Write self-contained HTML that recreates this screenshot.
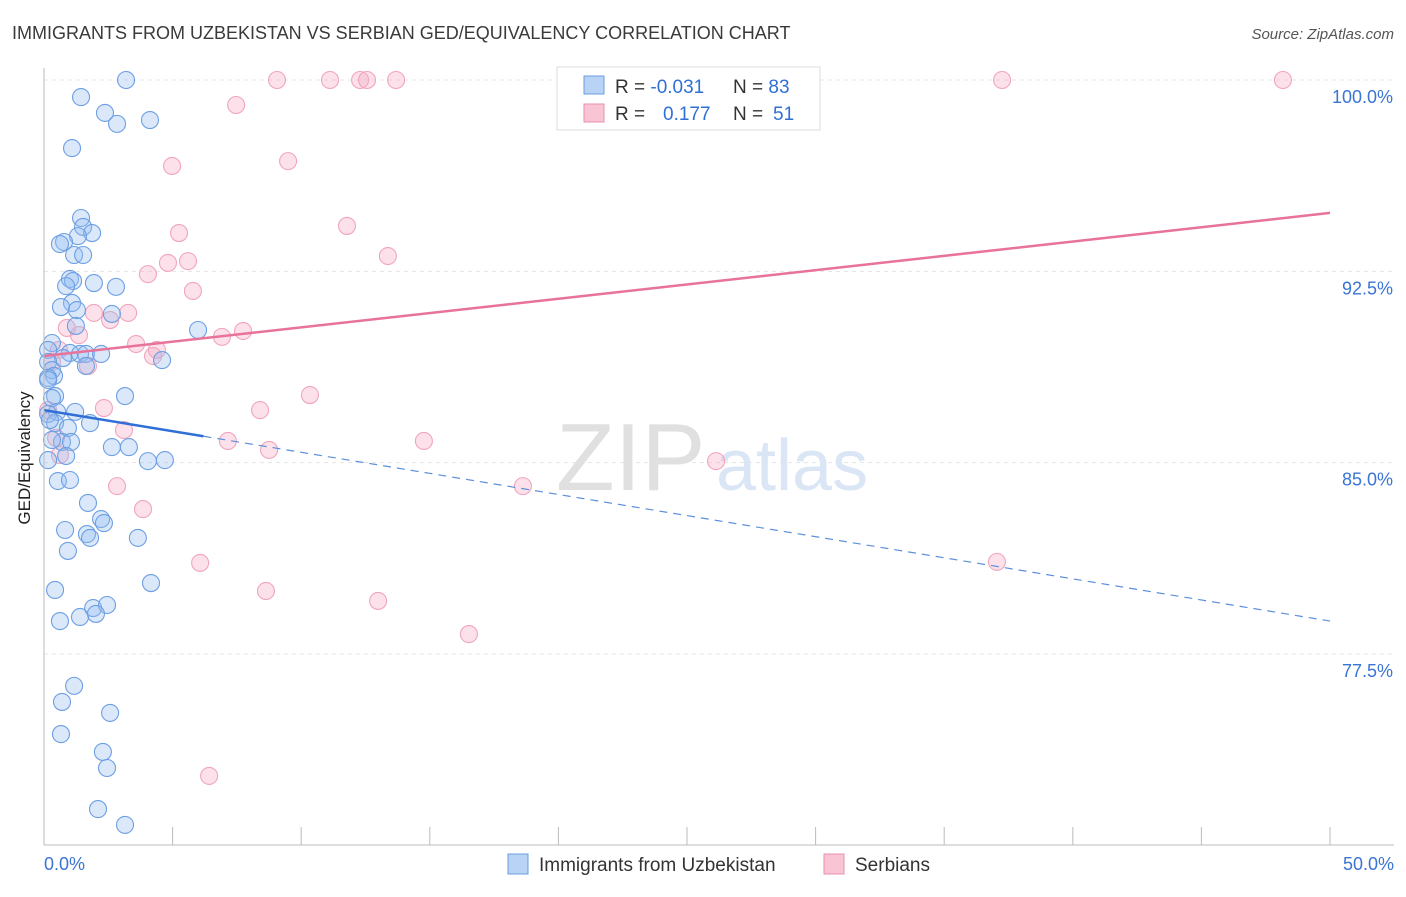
<!DOCTYPE html>
<html><head><meta charset="utf-8"><style>
body{margin:0;background:#fff;font-family:"Liberation Sans",sans-serif;}
svg text{font-family:"Liberation Sans",sans-serif;}
</style></head><body>
<svg id="c" width="1406" height="892">
<text x="12" y="39" font-size="18" fill="#3a3a3a">IMMIGRANTS FROM UZBEKISTAN VS SERBIAN GED/EQUIVALENCY CORRELATION CHART</text>
<text x="1394" y="39" font-size="15" fill="#555" text-anchor="end" font-style="italic">Source: ZipAtlas.com</text>
<text x="30" y="458" font-size="17" fill="#222" text-anchor="middle" transform="rotate(-90 30 458)">GED/Equivalency</text>
<g id="grid"></g>
<g><text x="556" y="490" font-size="96" fill="#e0e0e0" font-family="Liberation Serif">ZIP</text><text x="716" y="490" font-size="72" fill="#dae6f5">atlas</text></g>
<g id="pts"></g>
<g id="lines"></g>
<g id="axes"></g>
<g>
<rect x="557" y="67" width="263" height="63" fill="#fff" stroke="#ddd"/>
<rect x="584" y="76" width="20" height="18" fill="#b8d3f5" stroke="#6b9ee0"/>
<rect x="584" y="104" width="20" height="18" fill="#f9c4d4" stroke="#ea8fae"/>
<text x="615" y="93" font-size="19" fill="#333">R = <tspan fill="#2f6fd6">-0.031</tspan></text>
<text x="733" y="93" font-size="19" fill="#333">N = <tspan fill="#2f6fd6">83</tspan></text>
<text x="615" y="120" font-size="19" fill="#333">R = <tspan fill="#2f6fd6" x="663">0.177</tspan></text>
<text x="733" y="120" font-size="19" fill="#333">N = <tspan fill="#2f6fd6" x="773">51</tspan></text>
</g>
<g>
<rect x="508" y="854" width="20" height="20" fill="#b8d3f5" stroke="#6b9ee0"/>
<text x="539" y="871" font-size="19" fill="#333">Immigrants from Uzbekistan</text>
<rect x="824" y="854" width="20" height="20" fill="#f9c4d4" stroke="#ea8fae"/>
<text x="855" y="871" font-size="19" fill="#333">Serbians</text>
</g>
</svg>
<script>
const yTicks=[100,92.5,85,77.5];
const yTickLabels=["100.0%","92.5%","85.0%","77.5%"];
const xTicks=[0,5,10,15,20,25,30,35,40,45,50];
const blueX=[3.19,1.44,2.37,2.84,4.12,1.09,1.44,1.52,1.87,1.32,0.78,0.62,1.17,1.52,1.01,1.13,1.94,0.86,2.80,1.09,0.66,1.28,2.64,1.24,5.99,0.31,0.16,1.01,1.40,1.63,2.22,0.74,4.59,0.16,0.31,0.39,0.16,1.63,0.43,3.15,0.31,1.21,0.51,0.16,1.79,0.43,0.93,0.70,1.05,2.64,3.30,0.86,0.16,4.04,4.70,0.54,1.01,1.71,2.22,2.33,0.82,1.67,1.79,3.65,0.93,4.16,0.43,1.91,2.45,1.40,2.02,0.62,1.17,0.70,2.57,0.66,2.29,2.45,2.10,3.15,0.16,0.23,0.31];
const blueY=[100,99.33,98.71,98.28,98.43,97.33,94.59,94.24,94.00,93.88,93.65,93.57,93.14,93.14,92.20,92.12,92.04,91.92,91.89,91.26,91.10,90.98,90.83,90.36,90.20,89.69,89.42,89.30,89.26,89.26,89.26,89.10,89.02,88.95,88.63,88.40,88.32,88.79,87.61,87.61,87.53,86.99,86.99,86.91,86.55,86.55,86.36,85.81,85.81,85.61,85.61,85.26,85.10,85.06,85.10,84.28,84.32,83.42,82.79,82.63,82.36,82.20,82.05,82.05,81.54,80.28,80.01,79.30,79.42,78.95,79.07,78.79,76.25,75.62,75.19,74.36,73.66,73.03,71.42,70.80,88.24,86.67,85.89];
const pinkX=[20.57,9.06,11.12,12.29,12.56,13.69,37.25,48.17,7.47,9.49,4.98,11.78,5.25,13.37,4.04,4.82,5.60,5.79,1.94,3.27,2.57,0.89,1.36,7.74,6.92,3.58,4.39,4.24,0.58,1.71,0.31,10.34,2.33,8.40,3.11,7.15,8.75,14.77,0.47,26.13,2.84,18.62,3.85,6.07,37.05,8.63,12.99,16.52,6.42,0.16,0.62];
const pinkY=[100,100,100,100,100,100,100,100,99.02,96.82,96.63,94.28,94.00,93.10,92.39,92.83,92.90,91.73,90.87,90.87,90.59,90.28,90.00,90.16,89.93,89.65,89.42,89.18,89.42,88.79,88.95,87.65,87.14,87.06,86.28,85.85,85.50,85.85,85.97,85.06,84.08,84.08,83.18,81.07,81.11,79.97,79.58,78.28,72.72,87.06,85.30];
const pinkTrend=[89.18,94.79];
const blueTrend=[87.06,78.79];
const blueSolidEnd=6.2;
const X=v=>44+v*25.72, Y=v=>80+(100-v)*25.51;
const NS="http://www.w3.org/2000/svg";
function mk(tag,parent,attrs){const e=document.createElementNS(NS,tag);for(const k in attrs)e.setAttribute(k,attrs[k]);document.getElementById(parent).appendChild(e);return e;}
yTicks.forEach((t,i)=>{
 const g=mk('line','grid',{x1:44,x2:1394,y1:Y(t),y2:Y(t),stroke:'#e4e4e4','stroke-dasharray':'4 4'});
 
 
 const l=mk('text','axes',{x:1393,y:Y(t)+23,'font-size':18,fill:'#3a74d4','text-anchor':'end'});
 l.textContent=yTickLabels[i];
 
 
});
const ax=mk('line','axes',{x1:44,x2:44,y1:68,y2:845,stroke:'#bbb'});


const bx=mk('line','axes',{x1:44,x2:1394,y1:845,y2:845,stroke:'#bbb'});


xTicks.forEach(t=>{const e=mk('line','axes',{x1:X(t),x2:X(t),y1:827,y2:845,stroke:'#bbb'});
 
 });
const xl0=mk('text','axes',{x:44,y:870,'font-size':18,fill:'#3a74d4'});xl0.textContent=xTicks[0].toFixed(1)+'%';


const xl1=mk('text','axes',{x:1394,y:870,'font-size':18,fill:'#3a74d4','text-anchor':'end'});xl1.textContent=xTicks[xTicks.length-1].toFixed(1)+'%';


pinkX.forEach((x,i)=>{const c=mk('circle','pts',{cx:X(x),cy:Y(pinkY[i]),r:8.5,fill:'rgba(246,170,195,0.35)',stroke:'#f0a5bd','stroke-width':1.1});
 
 });
blueX.forEach((x,i)=>{const c=mk('circle','pts',{cx:X(x),cy:Y(blueY[i]),r:8.5,fill:'rgba(150,190,240,0.35)',stroke:'#6d9fe3','stroke-width':1.1});
 
 });
const pl=mk('line','lines',{x1:X(0),y1:Y(pinkTrend[0]),x2:X(50),y2:Y(pinkTrend[1]),stroke:'#e8729a','stroke-width':2.5});


const by=v=>blueTrend[0]+(blueTrend[1]-blueTrend[0])*v/50;
const bl=mk('line','lines',{x1:X(0),y1:Y(by(0)),x2:X(blueSolidEnd),y2:Y(by(blueSolidEnd)),stroke:'#2f6fd6','stroke-width':2.5});


const bd=mk('line','lines',{x1:X(blueSolidEnd),y1:Y(by(blueSolidEnd)),x2:X(50),y2:Y(by(50)),stroke:'#5b8fdc','stroke-width':1.2,'stroke-dasharray':'8 6'});


</script>
</body></html>
